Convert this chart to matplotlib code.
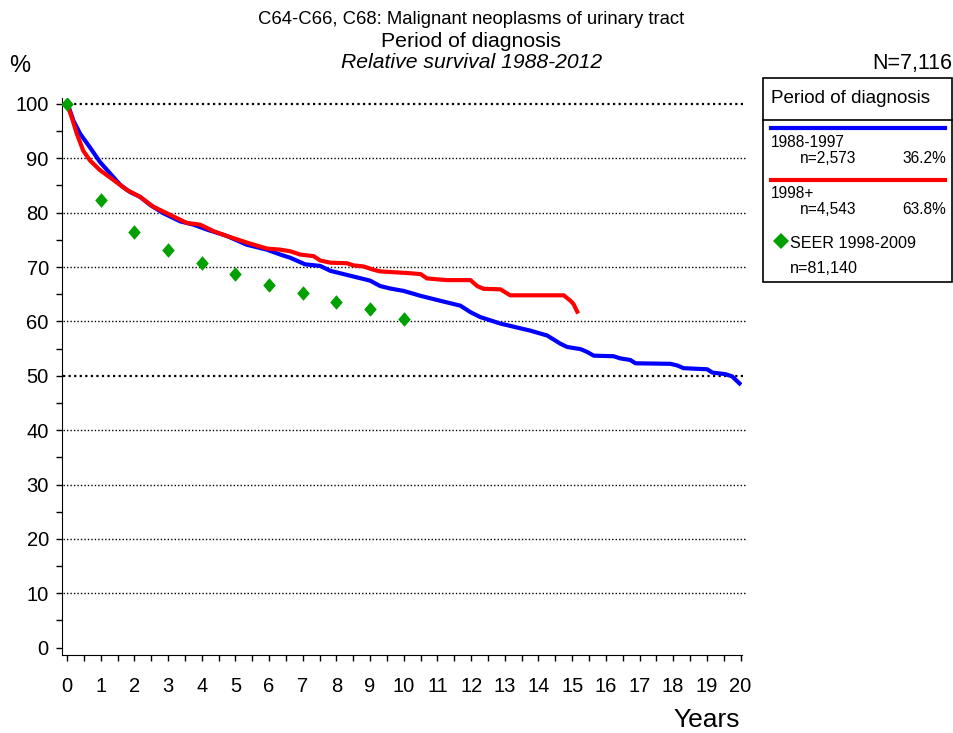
import matplotlib
matplotlib.use('Agg')
import matplotlib.pyplot as plt
from matplotlib.patches import Rectangle
from matplotlib.lines import Line2D
from matplotlib.ticker import MultipleLocator

plt.rcParams['font.family'] = ['Liberation Sans', 'DejaVu Sans']

# Relative survival, period 1988-1997
years_8897 = [0, 0.04, 0.19, 0.39, 0.68, 0.98, 1.28, 1.58, 1.87, 2.17, 2.47, 2.86, 3.36, 3.75,
              4.15, 4.75, 5.34, 5.93, 6.33, 6.63, 7.07, 7.52, 7.82, 8.41, 9.0, 9.3, 9.6, 10.0,
              10.5, 11.08, 11.68, 11.98, 12.27, 12.87, 13.76, 14.26, 14.65, 14.85, 15.25, 15.44,
              15.64, 16.23, 16.43, 16.73, 16.88, 17.92, 18.12, 18.31, 19.01, 19.16, 19.55,
              19.75, 19.9, 19.97]
surv_8897 = [100, 99.6, 96.9, 94.5, 92.0, 89.3, 87.2, 85.1, 83.8, 82.9, 81.4, 79.9, 78.4, 77.8,
             76.9, 75.7, 74.1, 73.2, 72.3, 71.7, 70.5, 70.2, 69.3, 68.4, 67.5, 66.5, 66.05, 65.6,
             64.7, 63.8, 62.9, 61.7, 60.8, 59.6, 58.3, 57.4, 55.9, 55.3, 54.9, 54.4,
             53.7, 53.6, 53.2, 52.9, 52.3, 52.2, 51.9, 51.4, 51.2, 50.6, 50.3,
             49.9, 49.0, 48.6]

# Relative survival, period 1998+
years_98 = [0, 0.14, 0.29, 0.48, 0.68, 0.98, 1.38, 1.77, 2.17, 2.56, 2.96, 3.56, 3.95, 4.35,
            4.75, 5.34, 5.93, 6.33, 6.63, 6.92, 7.32, 7.52, 7.82, 8.31, 8.51, 8.81, 9.1, 9.3,
            10.1, 10.5, 10.69, 11.28, 11.98, 12.18, 12.37, 12.87, 13.16, 14.75, 14.95, 15.04,
            15.15]
surv_98 = [100, 97.5, 94.5, 91.4, 89.6, 87.8, 86.0, 84.2, 82.9, 81.1, 79.9, 78.1, 77.8, 76.6,
           75.7, 74.5, 73.4, 73.2, 72.9, 72.3, 72.0, 71.2, 70.8, 70.7, 70.3, 70.1, 69.5, 69.2,
           68.9, 68.7, 67.9, 67.6, 67.6, 66.5, 66.0, 65.9, 64.8, 64.8, 63.8, 63.2,
           61.8]

# SEER 1998-2009 reference values
seer_years = [0, 1, 2, 3, 4, 5, 6, 7, 8, 9, 10]
seer_surv = [100, 82.3, 76.5, 73.2, 70.7, 68.7, 66.7, 65.2, 63.6, 62.2, 60.5]

grid_levels = [10, 20, 30, 40, 50, 60, 70, 80, 90, 100]

# diamond slightly taller than wide
diamond = [(0, 1), (0.86, 0), (0, -1), (-0.86, 0), (0, 1)]

fig = plt.figure(figsize=(9.54, 7.33), dpi=100)
ax = fig.add_axes([0.065, 0.1064, 0.713, 0.760])

for g in grid_levels:
    lw = 1.6 if g in (50, 100) else 1.0
    ax.plot([-0.12, 20.15], [g, g], color='black', lw=lw, ls=(0, (1, 1.5)),
            clip_on=False, zorder=1)

ax.plot(years_8897, surv_8897, color='#0000ff', lw=3.0, zorder=3, solid_joinstyle='round')
ax.plot(years_98, surv_98, color='#ff0000', lw=3.0, zorder=4, solid_joinstyle='round')
ax.plot(seer_years, seer_surv, ls='none', marker=diamond, ms=10.5, color='#00a000',
        markeredgewidth=0, zorder=5)

ax.set_xlim(-0.15, 20.05)
ax.set_ylim(-1.35, 101.1)
ax.spines['top'].set_visible(False)
ax.spines['right'].set_visible(False)
ax.xaxis.set_major_locator(MultipleLocator(1))
ax.xaxis.set_minor_locator(MultipleLocator(0.5))
ax.yaxis.set_major_locator(MultipleLocator(10))
ax.yaxis.set_minor_locator(MultipleLocator(5))
ax.tick_params(axis='both', which='major', labelsize=14.5, length=4.5, width=1)
ax.tick_params(axis='both', which='minor', length=4, width=1)
ax.tick_params(axis='x', pad=11)
ax.tick_params(axis='y', pad=5)

# titles
fig.text(0.494, 0.973, 'C64-C66, C68: Malignant neoplasms of urinary tract',
         ha='center', va='center', fontsize=13.3)
fig.text(0.494, 0.944, 'Period of diagnosis', ha='center', va='center', fontsize=15.3)
fig.text(0.494, 0.915, 'Relative survival 1988-2012', ha='center', va='center',
         fontsize=15.2, style='italic')
fig.text(0.021, 0.910, '%', ha='center', va='center', fontsize=17)
fig.text(0.998, 0.913, 'N=7,116', ha='right', va='center', fontsize=15.5)
fig.text(0.776, 0.018, 'Years', ha='right', va='center', fontsize=19)

# legend panel
fig.patches.append(Rectangle((0.800, 0.6153), 0.198, 0.2783, transform=fig.transFigure,
                             fill=False, edgecolor='black', lw=1.2))
fig.add_artist(Line2D([0.800, 0.998], [0.8363, 0.8363], transform=fig.transFigure,
                      color='black', lw=1.2))
fig.text(0.808, 0.866, 'Period of diagnosis', ha='left', va='center', fontsize=13.5)
fig.add_artist(Line2D([0.808, 0.9906], [0.8254, 0.8254], transform=fig.transFigure,
                      color='#0000ff', lw=3))
fig.text(0.808, 0.806, '1988-1997', ha='left', va='center', fontsize=11.2)
fig.text(0.838, 0.784, 'n=2,573', ha='left', va='center', fontsize=11.2)
fig.text(0.992, 0.784, '36.2%', ha='right', va='center', fontsize=11.2)
fig.add_artist(Line2D([0.808, 0.9906], [0.7544, 0.7544], transform=fig.transFigure,
                      color='#ff0000', lw=3))
fig.text(0.808, 0.736, '1998+', ha='left', va='center', fontsize=11.2)
fig.text(0.838, 0.714, 'n=4,543', ha='left', va='center', fontsize=11.2)
fig.text(0.992, 0.714, '63.8%', ha='right', va='center', fontsize=11.2)
fig.add_artist(Line2D([0.8187], [0.6712], transform=fig.transFigure, ls='none',
                      marker='D', ms=8, color='#00a000', markeredgewidth=0))
fig.text(0.828, 0.668, 'SEER 1998-2009', ha='left', va='center', fontsize=11.6)
fig.text(0.828, 0.634, 'n=81,140', ha='left', va='center', fontsize=11.6)

fig.savefig('out.png', dpi=100)
